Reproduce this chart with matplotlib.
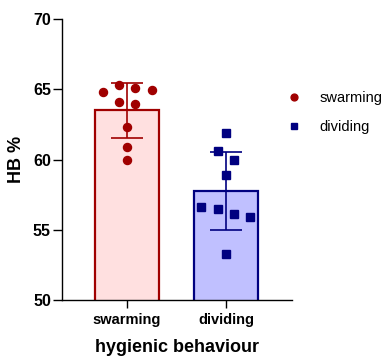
import numpy as np
import matplotlib
matplotlib.use("Agg")
import matplotlib.pyplot as plt

plt.rcParams['font.family'] = ['Liberation Sans', 'DejaVu Sans']

groups = ['swarming', 'dividing']
swarming = [64.8, 65.3, 65.1, 64.95, 64.1, 63.95, 62.3, 60.9, 60.0]
dividing = [61.9, 60.6, 60.0, 58.9, 56.6, 56.45, 56.1, 55.93, 53.25]
yticks = [50, 55, 60, 65, 70]

# horizontal spread of the dots inside each bar (category units)
swarm_dx = [-0.24, -0.08, 0.08, 0.25, -0.08, 0.08, 0.0, 0.0, 0.0]
divid_dx = [0.0, -0.08, 0.08, 0.0, -0.25, -0.085, 0.08, 0.24, 0.0]

edge_cols = ['#A00000', '#000080']
fill_cols = ['#FFE0E0', '#C0C0FF']
markers = ['o', 's']

fig = plt.figure(figsize=(3.82, 3.58), dpi=100)
ax = fig.add_axes([0.1623, 0.162, 0.6021, 0.7849])

data = [swarming, dividing]
offsets = [swarm_dx, divid_dx]
means = [np.mean(d) for d in data]
sds = [np.std(d, ddof=1) for d in data]
x = np.arange(len(groups))

ax.bar(x, means, width=0.64, color=fill_cols, edgecolor=edge_cols,
       linewidth=1.6, zorder=1)

handles = []
for i, name in enumerate(groups):
    ax.errorbar(x[i], means[i], yerr=sds[i], color=edge_cols[i],
                capsize=11.5, elinewidth=1.2, capthick=1.2, zorder=2)
    xs = x[i] + np.array(offsets[i])
    h, = ax.plot(xs, data[i], linestyle='none', marker=markers[i],
                 color=edge_cols[i], markersize=5.8 if i == 0 else 5.3,
                 zorder=3, label=name)
    handles.append(h)

ax.set_xlim(-0.657, 1.667)
ax.set_ylim(50, 70)
ax.set_yticks(yticks)
ax.set_xticks(x)
ax.set_xticklabels(groups)

for s in ['top', 'right']:
    ax.spines[s].set_visible(False)
for s in ['left', 'bottom']:
    ax.spines[s].set_linewidth(1.0)

ax.tick_params(axis='y', length=6.5, width=1.0, pad=1.5, labelsize=11.5)
ax.tick_params(axis='x', length=6, width=1.0, pad=3, labelsize=10.5)
for lab in ax.get_xticklabels() + ax.get_yticklabels():
    lab.set_fontweight('bold')

ax.set_ylabel('HB %', fontsize=13, fontweight='bold', labelpad=6)
# the reference clips this label at the bottom edge; keep it just inside
ax.set_xlabel('hygienic behaviour', fontsize=13, fontweight='bold', labelpad=9)

ax.legend(handles=handles, loc='center left', bbox_to_anchor=(279 / 382, 0.686),
          bbox_transform=fig.transFigure, frameon=False, fontsize=10.5,
          borderpad=0, borderaxespad=0, labelspacing=1.0,
          handletextpad=0.75, handlelength=2.0, markerscale=0.85)

fig.savefig('out.png', dpi=100)
